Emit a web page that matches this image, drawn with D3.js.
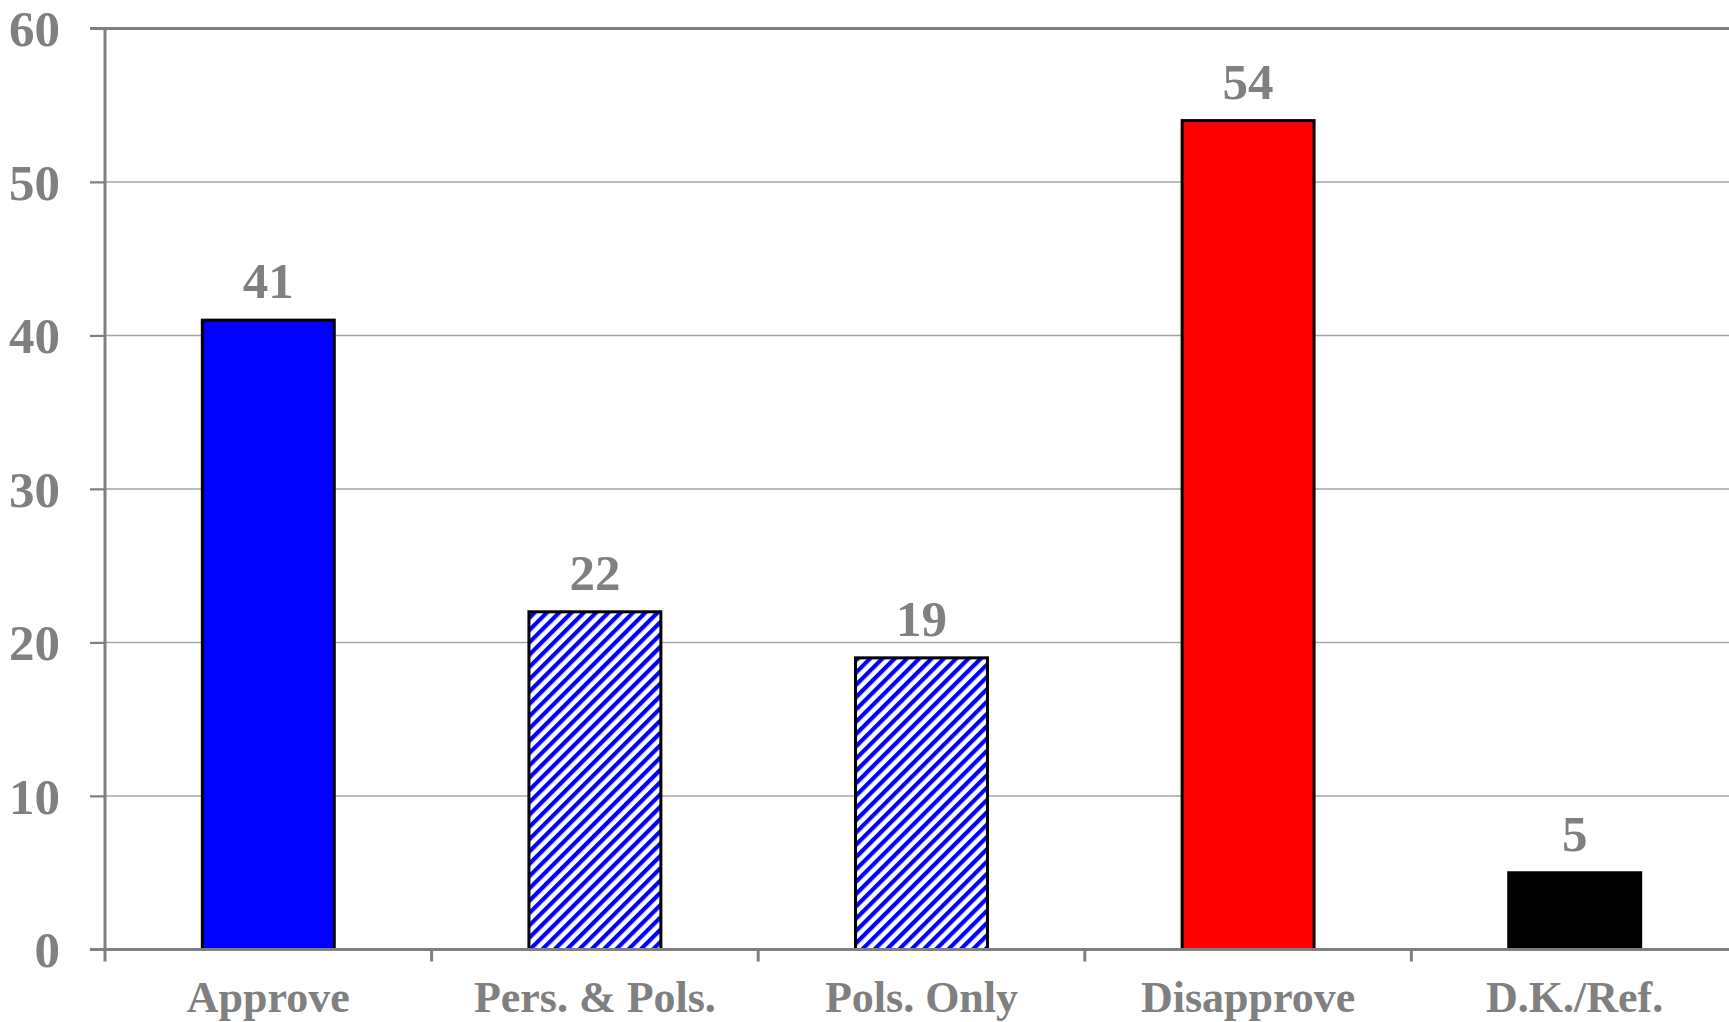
<!DOCTYPE html>
<html>
<head>
<meta charset="utf-8">
<script src="https://cdn.jsdelivr.net/npm/d3@7"></script>
<style>
  html, body { margin: 0; padding: 0; background: #ffffff; overflow: hidden; }
  svg { display: block; }
</style>
</head>
<body>
<svg id="chart" width="1729" height="1022"></svg>
<script>
// ---- data ----
const categories = ["Approve", "Pers. & Pols.", "Pols. Only", "Disapprove", "D.K./Ref."];
const values = [41, 22, 19, 54, 5];
const fills = ["#0000ff", "url(#hatch)", "url(#hatch)", "#ff0000", "#000000"];
const yTicks = [0, 10, 20, 30, 40, 50, 60];

// ---- layout ----
const W = 1729, H = 1022;
const x0 = 105, yTop = 28.5, yBottom = 949.5;
const step = 326.6;
const xEnd = x0 + step * categories.length;
const barPad = 0.596;
const gray = "#808080";
const font = "'Liberation Serif', 'Times New Roman', serif";

const svg = d3.select("#chart");

// hatch pattern
const defs = svg.append("defs");
const pat = defs.append("pattern")
  .attr("id", "hatch")
  .attr("patternUnits", "userSpaceOnUse")
  .attr("width", 8.7).attr("height", 8.7)
  .attr("patternTransform", "rotate(45)");
pat.append("rect").attr("width", 8.7).attr("height", 8.7).attr("fill", "#ffffff");
pat.append("rect").attr("x", 0).attr("width", 4.2).attr("height", 8.7).attr("fill", "#0000ff");

const x = d3.scaleBand()
  .domain(categories)
  .range([x0, xEnd])
  .paddingInner(barPad)
  .paddingOuter(barPad / 2);

const y = d3.scaleLinear().domain([0, 60]).range([yBottom, yTop]);

// gridlines (including y tick stubs)
svg.append("g").selectAll("line")
  .data(yTicks.filter(t => t > 0 && t < 60))
  .join("line")
  .attr("x1", x0 - 15).attr("x2", W)
  .attr("y1", d => y(d)).attr("y2", d => y(d))
  .attr("stroke", "#a6a6a6").attr("stroke-width", 1.5);

// bars
svg.append("g").selectAll("rect")
  .data(values)
  .join("rect")
  .attr("x", (d, i) => x(categories[i]))
  .attr("width", x.bandwidth())
  .attr("y", d => y(d))
  .attr("height", d => y(0) - y(d))
  .attr("fill", (d, i) => fills[i])
  .attr("stroke", "#000000")
  .attr("stroke-width", 3);

// top border
svg.append("line")
  .attr("x1", x0 - 15).attr("x2", W)
  .attr("y1", y(60)).attr("y2", y(60))
  .attr("stroke", gray).attr("stroke-width", 3);

// y axis
const yAxis = d3.axisLeft(y).tickValues(yTicks).tickSize(15).tickPadding(30).tickFormat(d3.format("d"));
const gy = svg.append("g").attr("transform", `translate(${x0},0)`).call(yAxis);
gy.select(".domain").remove();
gy.selectAll(".tick line").attr("stroke", gray).attr("stroke-width", 2);
gy.selectAll(".tick text")
  .attr("fill", gray)
  .attr("font-family", font)
  .attr("font-weight", "bold")
  .attr("font-size", 51)
  .attr("dy", "0.34em");
svg.append("line")
  .attr("x1", x0).attr("x2", x0)
  .attr("y1", y(60) - 1.5).attr("y2", yBottom + 12)
  .attr("stroke", gray).attr("stroke-width", 3);

// x axis line + boundary ticks
svg.append("line")
  .attr("x1", x0 - 15).attr("x2", W)
  .attr("y1", yBottom).attr("y2", yBottom)
  .attr("stroke", gray).attr("stroke-width", 3);
svg.append("g").selectAll("line")
  .data(d3.range(1, categories.length + 1))
  .join("line")
  .attr("x1", i => x0 + i * x.step()).attr("x2", i => x0 + i * x.step())
  .attr("y1", yBottom).attr("y2", yBottom + 12)
  .attr("stroke", gray).attr("stroke-width", 3);

// category labels
svg.append("g").selectAll("text")
  .data(categories)
  .join("text")
  .attr("x", d => x(d) + x.bandwidth() / 2)
  .attr("y", 1012)
  .attr("text-anchor", "middle")
  .attr("fill", gray)
  .attr("font-family", font)
  .attr("font-weight", "bold")
  .attr("font-size", 44)
  .text(d => d);

// value labels
svg.append("g").selectAll("text")
  .data(values)
  .join("text")
  .attr("x", (d, i) => x(categories[i]) + x.bandwidth() / 2)
  .attr("y", d => y(d) - 22)
  .attr("text-anchor", "middle")
  .attr("fill", gray)
  .attr("font-family", font)
  .attr("font-weight", "bold")
  .attr("font-size", 51)
  .text(d => d);
</script>
</body>
</html>
